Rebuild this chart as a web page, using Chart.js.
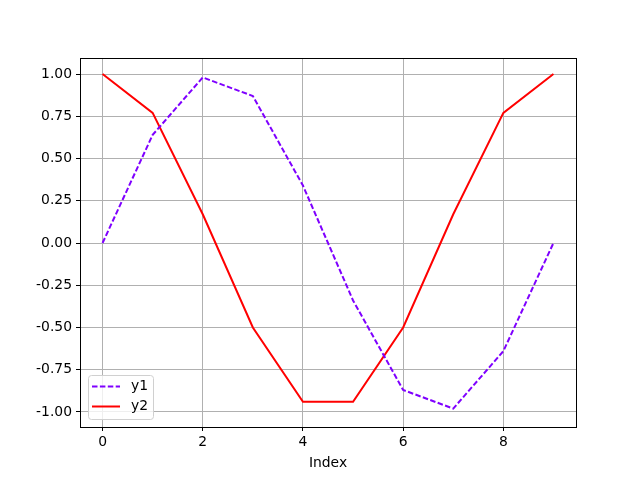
<!DOCTYPE html>
<html>
<head>
<meta charset="utf-8">
<script src="https://cdn.jsdelivr.net/npm/chart.js@4/dist/chart.umd.min.js"></script>
<style>
  html, body { margin: 0; padding: 0; background: #fff; }
  #wrap { width: 640px; height: 480px; }
</style>
</head>
<body>
<div id="wrap"><canvas id="myChart" width="640" height="480"></canvas></div>
<script>
'use strict';

// data
const indexes = [0, 1, 2, 3, 4, 5, 6, 7, 8, 9];
const y1 = [0.00, 0.64, 0.98, 0.87, 0.34, -0.34, -0.87, -0.98, -0.64, 0.00];
const y2 = [1.00, 0.77, 0.17, -0.50, -0.94, -0.94, -0.50, 0.17, 0.77, 1.00];
const xTicks = [0, 2, 4, 6, 8];
const yTicks = [-1.00, -0.75, -0.50, -0.25, 0.00, 0.25, 0.50, 0.75, 1.00];

const FONT = 'DejaVu Sans';

function pts(ys) {
    return indexes.map((x, i) => ({ x: x, y: ys[i] }));
}

// frame on top and right side of the axes
const framePlugin = {
    id: 'frame',
    afterDraw(chart) {
        const a = chart.chartArea;
        const c = chart.ctx;
        c.save();
        c.strokeStyle = '#000';
        c.lineWidth = 1;
        c.strokeRect(Math.round(a.left) + 0.5, Math.round(a.top) + 0.5,
            Math.round(a.right - a.left), Math.round(a.bottom - a.top));
        c.restore();
    }
};

// legend inside lower left corner
const legendPlugin = {
    id: 'innerLegend',
    afterDraw(chart) {
        const a = chart.chartArea;
        const c = chart.ctx;
        const x0 = a.left + 8, w = 65, h = 44;
        const y0 = a.bottom - 8 - h;
        c.save();
        c.fillStyle = 'rgba(255,255,255,0.8)';
        c.strokeStyle = '#d0d0d0';
        c.lineWidth = 1;
        c.beginPath();
        c.roundRect(x0 + 0.5, y0 + 0.5, w, h, 3);
        c.fill();
        c.stroke();
        c.font = '13.9px "' + FONT + '"';
        c.textBaseline = 'middle';
        chart.data.datasets.forEach((ds, i) => {
            const yy = y0 + 11.5 + i * 20;
            c.strokeStyle = ds.borderColor;
            c.lineWidth = ds.borderWidth;
            c.setLineDash(ds.borderDash || []);
            c.beginPath();
            c.moveTo(x0 + 4, yy);
            c.lineTo(x0 + 32, yy);
            c.stroke();
            c.setLineDash([]);
            c.fillStyle = '#000';
            c.fillText(ds.label, x0 + 43, yy);
        });
        c.restore();
    }
};

const ctx = document.getElementById('myChart').getContext('2d');
const myChart = new Chart(ctx, {
    type: 'line',
    data: {
        datasets: [{
            label: 'y1',
            data: pts(y1),
            borderColor: '#7f00ff',
            borderWidth: 2,
            borderDash: [5.5, 2.4],
            pointRadius: 0,
            tension: 0,
            fill: false
        }, {
            label: 'y2',
            data: pts(y2),
            borderColor: '#ff0000',
            borderWidth: 2,
            pointRadius: 0,
            tension: 0,
            fill: false
        }]
    },
    options: {
        responsive: false,
        animation: false,
        layout: { padding: { left: 0, right: 64, top: 58, bottom: 0 } },
        plugins: {
            legend: { display: false },
            tooltip: { enabled: false }
        },
        scales: {
            x: {
                type: 'linear',
                min: -0.45,
                max: 9.45,
                afterBuildTicks: s => { s.ticks = xTicks.map(v => ({ value: v })); },
                afterFit: s => { s.height = 53; },
                grid: { color: '#b0b0b0', lineWidth: 1, tickColor: '#000', tickLength: 4 },
                border: { color: '#000', width: 1 },
                ticks: {
                    color: '#000', padding: 3, maxRotation: 0,
                    font: { family: FONT, size: 13.9 },
                    callback: v => String(v)
                },
                title: {
                    display: true, text: 'Index', color: '#000',
                    font: { family: FONT, size: 13.9 },
                    padding: { top: 2, bottom: 8 }
                }
            },
            y: {
                type: 'linear',
                min: -1.089,
                max: 1.095,
                afterBuildTicks: s => { s.ticks = yTicks.map(v => ({ value: v })); },
                afterFit: s => { s.width = 80; },
                grid: { color: '#b0b0b0', lineWidth: 1, tickColor: '#000', tickLength: 4 },
                border: { color: '#000', width: 1 },
                ticks: {
                    color: '#000', padding: 4,
                    font: { family: FONT, size: 13.9 },
                    callback: v => v.toFixed(2)
                }
            }
        }
    },
    plugins: [framePlugin, legendPlugin]
});
</script>
</body>
</html>
